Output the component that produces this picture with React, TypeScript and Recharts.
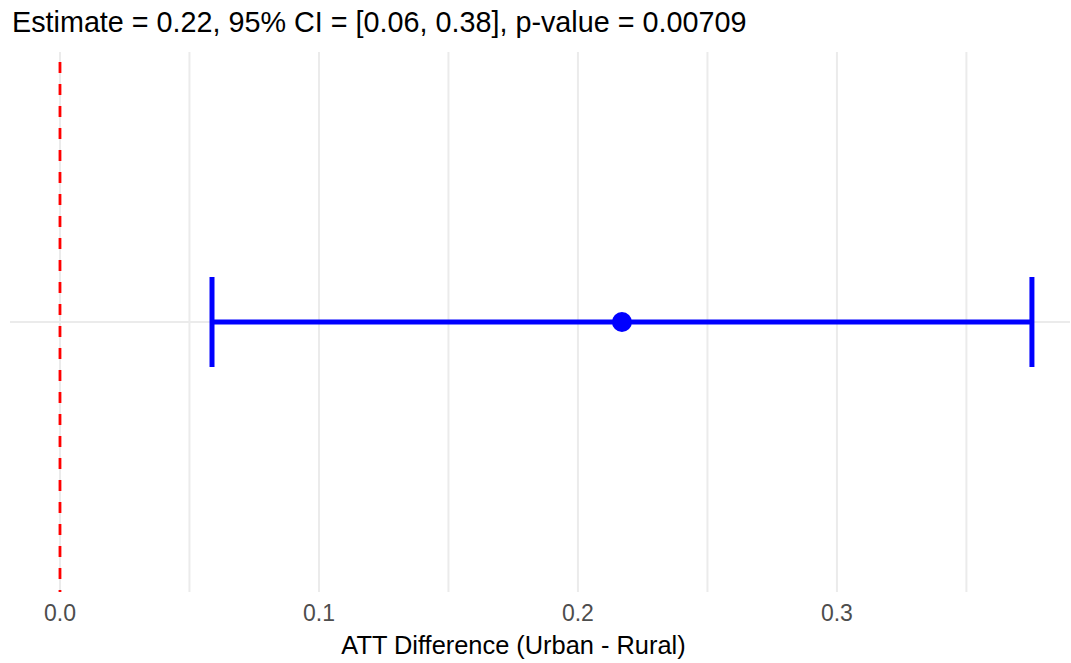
import React from "react";
import { ComposedChart, Scatter, ErrorBar, XAxis, YAxis, ReferenceLine } from "recharts";

const estimates = [0.217];
const ciLows = [0.0587];
const ciHighs = [0.3753];
const rowPositions = [1];
const majorTicks = [0, 0.1, 0.2, 0.3];
const minorTicks = [0.05, 0.15, 0.25, 0.35];
const titleText = "Estimate = 0.22, 95% CI = [0.06, 0.38], p-value = 0.00709";
const xTitle = "ATT Difference (Urban - Rural)";

const data = estimates.map((e, i) => ({
  x: e,
  y: rowPositions[i],
  err: [e - ciLows[i], ciHighs[i] - e],
}));

const FONT = "'Liberation Sans', Arial, Helvetica, sans-serif";
const GRID = "#ebebeb";

const Dot = (props: any) => <circle cx={props.cx} cy={props.cy} r={10} fill="#0000ff" />;

export default function App() {
  return (
    <div style={{ position: "absolute", left: 0, top: 0, width: 1071, height: 663, background: "#fff", fontFamily: FONT }}>
      <div style={{ position: "absolute", left: 12, top: 8, fontSize: 28.75, lineHeight: "28px", color: "#000", whiteSpace: "nowrap" }}>
        {titleText}
      </div>
      <ComposedChart width={1071} height={663} data={data} margin={{ top: 52, right: 1, left: 10, bottom: 0 }}>
        <XAxis
          type="number"
          dataKey="x"
          domain={[-0.0193, 0.39]}
          ticks={majorTicks}
          allowDataOverflow
          axisLine={false}
          tickLine={false}
          tickSize={0}
          tickMargin={13}
          height={71}
          tickFormatter={(v: number) => v.toFixed(1)}
          tick={{ fontSize: 23, fill: "#4d4d4d", fontFamily: FONT }}
        />
        <YAxis type="number" dataKey="y" domain={[0, 2]} hide />
        {minorTicks.map((t) => (
          <ReferenceLine key={"mi" + t} x={t} stroke={GRID} strokeWidth={2} />
        ))}
        {majorTicks.map((t) => (
          <ReferenceLine key={"ma" + t} x={t} stroke={GRID} strokeWidth={2} />
        ))}
        {rowPositions.map((r) => (
          <ReferenceLine key={"r" + r} y={r} stroke={GRID} strokeWidth={2} />
        ))}
        <ReferenceLine x={0} stroke="#ff0000" strokeWidth={2.8} strokeDasharray="11 11" strokeDashoffset={9} />
        <Scatter dataKey="y" fill="#0000ff" shape={Dot} isAnimationActive={false}>
          <ErrorBar dataKey="err" direction="x" width={45} strokeWidth={5} stroke="#0000ff" isAnimationActive={false} />
        </Scatter>
      </ComposedChart>
      <div style={{ position: "absolute", left: 513.5, top: 633, transform: "translateX(-50%)", fontSize: 25.4, lineHeight: "25px", color: "#000", whiteSpace: "nowrap" }}>
        {xTitle}
      </div>
    </div>
  );
}
